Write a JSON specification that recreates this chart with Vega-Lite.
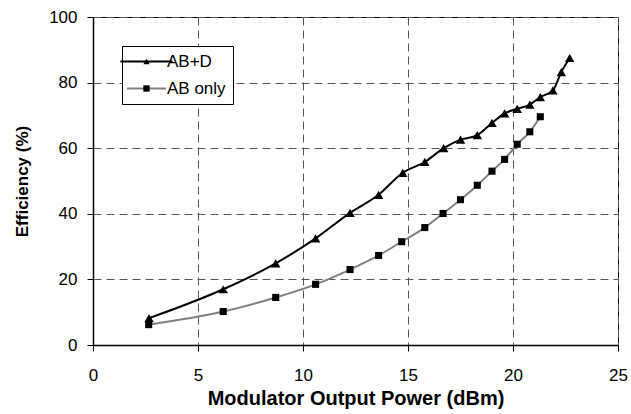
{
  "$schema": "https://vega.github.io/schema/vega-lite/v6.json",
  "autosize": "none",
  "width": 525,
  "height": 328,
  "padding": {"left": 93, "top": 17, "right": 13, "bottom": 69},
  "background": "white",
  "config": {
    "font": "Liberation Sans",
    "view": {"stroke": "black", "strokeWidth": 1},
    "axis": {
      "domainColor": "black",
      "domainWidth": 1.5,
      "tickColor": "black",
      "tickWidth": 1,
      "tickSize": 6,
      "labelColor": "black",
      "labelFont": "Liberation Sans",
      "labelFontSize": 17,
      "labelFontWeight": "normal",
      "labelFlush": false,
      "labelOverlap": false,
      "titleColor": "black",
      "titleFont": "Liberation Sans",
      "titleFontWeight": "bold",
      "gridColor": "#555555",
      "gridDash": [8, 5],
      "gridWidth": 1,
      "gridOpacity": 1
    },
    "legend": {"labelFont": "Liberation Sans", "labelColor": "black"}
  },
  "data": {
    "values": [
      {"power": 2.67, "eff": 8.2, "series": "AB+D", "curve": "AB+D"},
      {"power": 6.2, "eff": 17.0, "series": "AB+D", "curve": "AB+D"},
      {"power": 8.7, "eff": 24.9, "series": "AB+D", "curve": "AB+D"},
      {"power": 10.6, "eff": 32.5, "series": "AB+D", "curve": "AB+D"},
      {"power": 12.24, "eff": 40.3, "series": "AB+D", "curve": "AB+D"},
      {"power": 13.6, "eff": 45.8, "series": "AB+D", "curve": "AB+D"},
      {"power": 14.75, "eff": 52.5, "series": "AB+D", "curve": "AB+D"},
      {"power": 15.8, "eff": 55.8, "series": "AB+D", "curve": "AB+D"},
      {"power": 16.7, "eff": 60.0, "series": "AB+D", "curve": "AB+D"},
      {"power": 17.5, "eff": 62.6, "series": "AB+D", "curve": "AB+D"},
      {"power": 18.3, "eff": 64.0, "series": "AB+D", "curve": "AB+D"},
      {"power": 19.0, "eff": 67.7, "series": "AB+D", "curve": "AB+D"},
      {"power": 19.6, "eff": 70.6, "series": "AB+D", "curve": "AB+D"},
      {"power": 20.2, "eff": 72.0, "series": "AB+D", "curve": "AB+D"},
      {"power": 20.8, "eff": 73.3, "series": "AB+D", "curve": "AB+D"},
      {"power": 21.3, "eff": 75.6, "series": "AB+D", "curve": "AB+D"},
      {"power": 21.9, "eff": 77.6, "series": "AB+D", "curve": "AB+D"},
      {"power": 22.3, "eff": 83.2, "series": "AB+D", "curve": "AB+D"},
      {"power": 22.7, "eff": 87.5, "series": "AB+D", "curve": "AB+D"},
      {"power": 2.65, "eff": 6.2, "series": "AB only", "curve": "AB only"},
      {"power": 6.2, "eff": 10.2, "series": "AB only", "curve": "AB only"},
      {"power": 8.7, "eff": 14.5, "series": "AB only", "curve": "AB only"},
      {"power": 10.6, "eff": 18.5, "series": "AB only", "curve": "AB only"},
      {"power": 12.24, "eff": 23.0, "series": "AB only", "curve": "AB only"},
      {"power": 13.6, "eff": 27.3, "series": "AB only", "curve": "AB only"},
      {"power": 14.7, "eff": 31.5, "series": "AB only", "curve": "AB only"},
      {"power": 15.8, "eff": 35.8, "series": "AB only", "curve": "AB only"},
      {"power": 16.67, "eff": 40.1, "series": "AB only", "curve": "AB only"},
      {"power": 17.5, "eff": 44.3, "series": "AB only", "curve": "AB only"},
      {"power": 18.3, "eff": 48.7, "series": "AB only", "curve": "AB only"},
      {"power": 19.0, "eff": 53.0, "series": "AB only", "curve": "AB only"},
      {"power": 19.6, "eff": 56.6, "series": "AB only", "curve": "AB only"},
      {"power": 20.2, "eff": 61.2, "series": "AB only", "curve": "AB only"},
      {"power": 20.8, "eff": 65.0, "series": "AB only", "curve": "AB only"},
      {"power": 21.3, "eff": 69.6, "series": "AB only", "curve": "AB only"}
    ]
  },
  "encoding": {
    "x": {
      "field": "power",
      "type": "quantitative",
      "scale": {"domain": [0, 25], "nice": false, "zero": false},
      "axis": {
        "values": [0, 5, 10, 15, 20, 25],
        "title": "Modulator Output Power (dBm)",
        "titleFontSize": 20,
        "labelPadding": 16,
        "titlePadding": 5
      }
    },
    "y": {
      "field": "eff",
      "type": "quantitative",
      "scale": {"domain": [0, 100], "nice": false},
      "axis": {
        "values": [0, 20, 40, 60, 80, 100],
        "title": "Efficiency (%)",
        "titleFontSize": 17,
        "labelPadding": 10,
        "titlePadding": 17
      }
    }
  },
  "layer": [
    {
      "mark": {"type": "line", "interpolate": "monotone", "strokeWidth": 2},
      "encoding": {
        "stroke": {
          "field": "series",
          "type": "nominal",
          "scale": {"domain": ["AB+D", "AB only"], "range": ["#000000", "#808080"]},
          "legend": {
            "orient": "none",
            "legendX": 29,
            "legendY": 29,
            "title": null,
            "symbolType": "M-5.5,0H5.5",
            "symbolSize": 40,
            "symbolStrokeWidth": 2,
            "symbolFillColor": "transparent",
            "symbolOffset": 9,
            "labelOffset": 12,
            "labelFontSize": 17,
            "labelOpacity": 0,
            "fillColor": "white",
            "strokeColor": "black",
            "padding": 7,
            "rowPadding": 9
          }
        }
      }
    },
    {
      "mark": {"type": "point", "filled": true, "opacity": 1, "color": "black"},
      "encoding": {
        "size": {
          "field": "series",
          "type": "nominal",
          "scale": {"domain": ["AB+D", "AB only"], "range": [90, 50]},
          "legend": null
        },
        "shape": {
          "field": "curve",
          "type": "nominal",
          "sort": null,
          "scale": {"range": ["triangle-up", "square"]},
          "legend": {
            "orient": "none",
            "legendX": 29,
            "legendY": 29,
            "title": null,
            "symbolSize": 40,
            "symbolFillColor": "black",
            "symbolStrokeColor": "black",
            "symbolStrokeWidth": 0,
            "symbolOffset": 9,
            "labelOffset": 12,
            "labelFontSize": 17,
            "padding": 7,
            "rowPadding": 9
          }
        }
      }
    }
  ]
}
